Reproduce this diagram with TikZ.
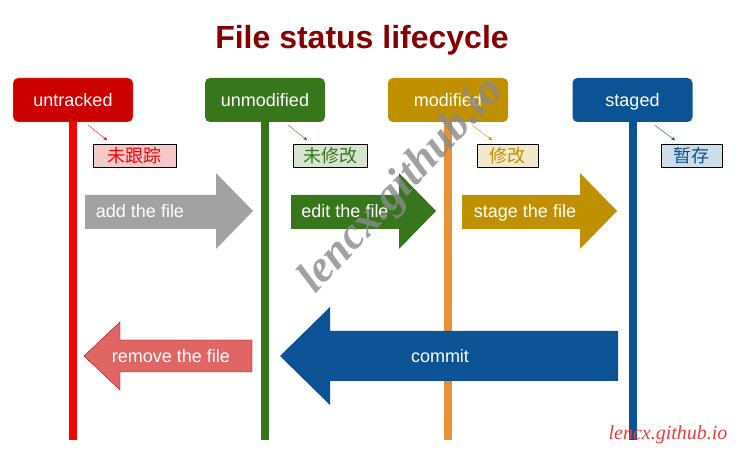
\documentclass[tikz,border=0pt]{standalone}
\usepackage{fontspec}
\setmainfont{Liberation Sans}
\newfontfamily\cjk{Noto Sans CJK SC}
\newfontfamily\markfont{Liberation Serif}
\usetikzlibrary{arrows}

\definecolor{titlered}{HTML}{850000}
\definecolor{trackred}{HTML}{CC0000}
\definecolor{unmodgreen}{HTML}{38761D}
\definecolor{modgold}{HTML}{BF9000}
\definecolor{stageblue}{HTML}{0B5394}
\definecolor{lifered}{HTML}{FF0000}
\definecolor{lifeorange}{HTML}{E69138}
\definecolor{addgray}{HTML}{A2A2A2}
\definecolor{removered}{HTML}{E06666}
\definecolor{markgray}{HTML}{8A8A8A}
\definecolor{signred}{HTML}{F03C3C}

\begin{document}
\begin{tikzpicture}[x=1pt,y=-1pt,>=stealth',semithick]

  \tikzstyle{state}=[rectangle,rounded corners=5pt,minimum width=120pt,
                     minimum height=44pt,text=white,text height=17pt,text depth=3pt,
                     font=\fontsize{18}{20}\selectfont]
  \tikzstyle{tag}=[rectangle,draw=black,thin,minimum height=23pt,inner sep=0pt,
                   font=\cjk\fontsize{18}{20}\selectfont]
  \tikzstyle{life}=[line width=8pt]
  \tikzstyle{pointer}=[->,thin,shorten >=1pt]
  \tikzstyle{arrowtext}=[text=white,text height=17pt,text depth=3pt,
                         font=\fontsize{18}{20}\selectfont]

  \useasboundingbox (0,0) rectangle (740,454);

  \node[text=titlered,font=\bfseries\fontsize{32}{36}\selectfont] (title) at (362,40) {File status lifecycle};

  % states
  \node[state,fill=trackred,draw=lifeorange!70,thin] (untracked) at (73,100)    {untracked};
  \node[state,fill=unmodgreen]                       (unmodified) at (265,100)  {unmodified};
  \node[state,fill=modgold]                          (modified) at (448,100)    {modified};
  \node[state,fill=stageblue]                        (staged) at (632.5,100)    {staged};

  % lifelines
  \draw[life,lifered]    (untracked.south)  -- +(0,318);
  \draw[life,unmodgreen] (unmodified.south) -- +(0,318);
  \draw[life,lifeorange] (modified.south)   -- +(0,318);
  \draw[life,stageblue]  (staged.south)     -- +(0,318);

  % chinese tags
  \node[tag,fill=removered!35,text=lifered,minimum width=83pt]     (wgz) at (134.5,155.5) {未跟踪};
  \node[tag,fill=unmodgreen!20,text=unmodgreen,minimum width=74pt] (wxg) at (330,155.5)   {未修改};
  \node[tag,fill=modgold!20,text=modgold,minimum width=61pt]       (xg)  at (507.5,155.5) {修改};
  \node[tag,fill=stageblue!20,text=stageblue,minimum width=61pt]   (zc)  at (691.5,155.5) {暂存};

  \draw[pointer,lifered]    ([xshift=-45pt,yshift=-3pt]untracked.south east)  -- ([xshift=15pt,yshift=3pt]wgz.north west);
  \draw[pointer,unmodgreen] ([xshift=-37pt,yshift=-3pt]unmodified.south east) -- ([xshift=15pt,yshift=3pt]wxg.north west);
  \draw[pointer,modgold]    ([xshift=-36pt,yshift=-3pt]modified.south east)   -- ([xshift=16pt,yshift=3pt]xg.north west);
  \draw[pointer,stageblue]  ([xshift=-38pt,yshift=-3pt]staged.south east)     -- ([xshift=15pt,yshift=3pt]zc.north west);

  % forward arrows
  \fill[addgray]    (85,195)  -- (216,195) -- (216,173) -- (253,211) -- (216,249) -- (216,229) -- (85,229) -- cycle;
  \fill[unmodgreen] (291,195) -- (399,195) -- (399,173) -- (436,211) -- (399,249) -- (399,229) -- (291,229) -- cycle;
  \fill[modgold]    (462,195) -- (580,195) -- (580,173) -- (617,211) -- (580,249) -- (580,229) -- (462,229) -- cycle;

  \node[arrowtext] (add)   at (140,211) {add the file};
  \node[arrowtext] (edit)  at (345,211) {edit the file};
  \node[arrowtext] (stage) at (525,211) {stage the file};

  % backward arrows
  \filldraw[fill=removered,draw=trackred!80!black,thin]
    (252,340) -- (120,340) -- (120,322) -- (84,356) -- (120,390) -- (120,372) -- (252,372) -- cycle;
  \fill[stageblue] (618,331) -- (330,331) -- (330,307) -- (280,356) -- (330,405) -- (330,381) -- (618,381) -- cycle;

  \node[arrowtext] (remove) at (171,356) {remove the file};
  \node[arrowtext] (commit) at (440,356) {commit};

  % watermarks
  \node[rotate=47,text=markgray,opacity=0.8,font=\markfont\bfseries\itshape\fontsize{45}{45}\selectfont]
    (mark) at (402,186) {lencx.github.io};
  \node[text=signred,font=\markfont\itshape\fontsize{20}{20}\selectfont] (sign) at (668,435) {lencx.github.io};
\end{tikzpicture}
\end{document}
